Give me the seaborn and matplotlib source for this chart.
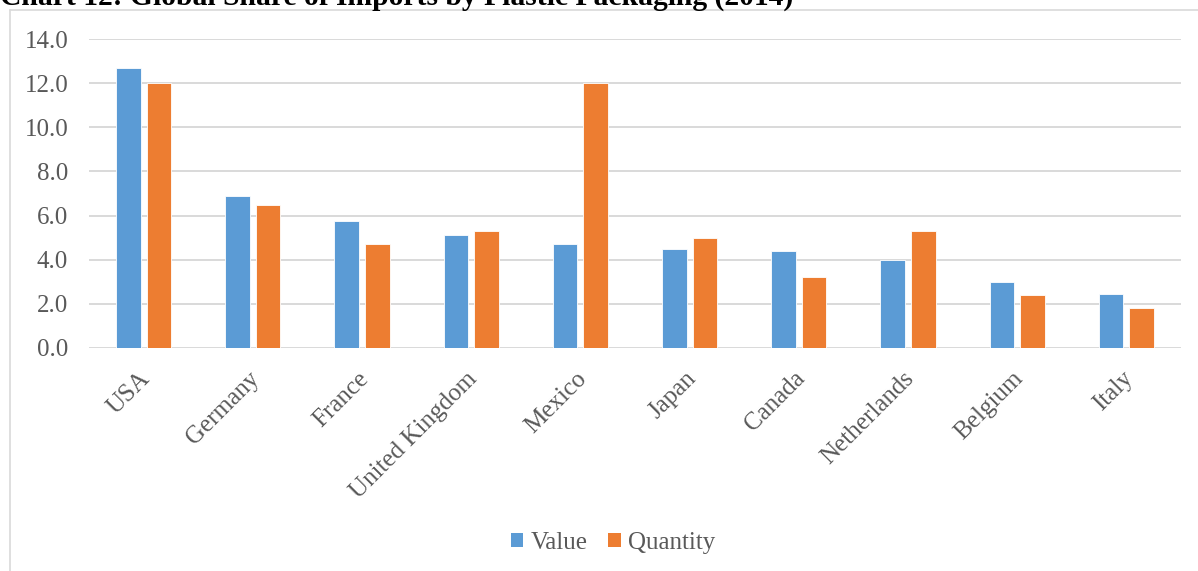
import matplotlib
matplotlib.use("Agg")
import matplotlib.pyplot as plt
import matplotlib.transforms as mtransforms
from matplotlib.lines import Line2D
from matplotlib.patches import Patch
import pandas as pd
import seaborn as sns

countries = ["USA", "Germany", "France", "United Kingdom", "Mexico",
             "Japan", "Canada", "Netherlands", "Belgium", "Italy"]
value = [12.7, 6.9, 5.75, 5.1, 4.7, 4.5, 4.4, 4.0, 3.0, 2.45]
quantity = [12.0, 6.5, 4.7, 5.3, 12.0, 5.0, 3.2, 5.3, 2.4, 1.8]
series = ["Value", "Quantity"]
colors = ["#5B9BD5", "#ED7D31"]
yticks = [0, 2, 4, 6, 8, 10, 12, 14]
title = "Chart 12: Global Share of Imports by Plastic Packaging (2014)"

df = pd.DataFrame({
    "country": countries * 2,
    "share": value + quantity,
    "series": [series[0]] * len(countries) + [series[1]] * len(countries),
})

sns.set_theme(style="white")
plt.rcParams["font.family"] = ["Liberation Serif", "DejaVu Serif"]

W, H = 1198, 571
fig = plt.figure(figsize=(W / 100, H / 100), dpi=100)
ax = fig.add_axes([89 / W, 1 - 348 / H, (1181 - 89) / W, (348 - 39) / H])

sns.barplot(data=df, x="country", y="share", hue="series", order=countries,
            hue_order=series, palette=colors, width=0.56, gap=0.2,
            saturation=1, edgecolor="white", linewidth=0.6, ax=ax,
            legend=False, zorder=3)

ax.set_xlim(-0.5, len(countries) - 0.5)
ax.set_ylim(0, 14)
ax.set_yticks(yticks)
ax.set_yticklabels([f"{t:.1f}" for t in yticks])
ax.grid(axis="y", color="#D9D9D9", linewidth=1.4, zorder=0)
ax.set_axisbelow(True)
for s in ax.spines.values():
    s.set_visible(False)
ax.set_xlabel("")
ax.set_ylabel("")

tick_color = "#595959"
ax.tick_params(axis="y", length=0, pad=15, labelsize=18, labelcolor=tick_color)
ax.tick_params(axis="x", length=0, pad=14, labelsize=18, labelcolor=tick_color)
shift = mtransforms.ScaledTranslation(-5 / 100, 0, fig.dpi_scale_trans)
for lab in ax.get_xticklabels():
    lab.set_rotation(45)
    lab.set_ha("right")
    lab.set_va("top")
    lab.set_rotation_mode("anchor")
    lab.set_transform(lab.get_transform() + shift)

# chart frame (left and top edges)
fig.add_artist(Line2D([10 / W, 10 / W], [0, 1 - 10 / H], transform=fig.transFigure,
                      color="#D9D9D9", linewidth=1.2))
fig.add_artist(Line2D([10 / W, 1], [1 - 10 / H, 1 - 10 / H], transform=fig.transFigure,
                      color="#D9D9D9", linewidth=1.2))

fig.text(0, 1 - 5 / H, title, fontsize=21.3, fontweight="bold", color="black",
         ha="left", va="baseline")

handles = [Patch(facecolor=c, edgecolor="none") for c in colors]
fig.legend(handles, series, loc="center", bbox_to_anchor=(613 / W, 1 - 543 / H),
           ncol=2, frameon=False, fontsize=18, handlelength=0.5, handleheight=0.5,
           handletextpad=0.28, columnspacing=0.84, labelcolor=tick_color)

fig.savefig("out.png", dpi=100, facecolor="white")
